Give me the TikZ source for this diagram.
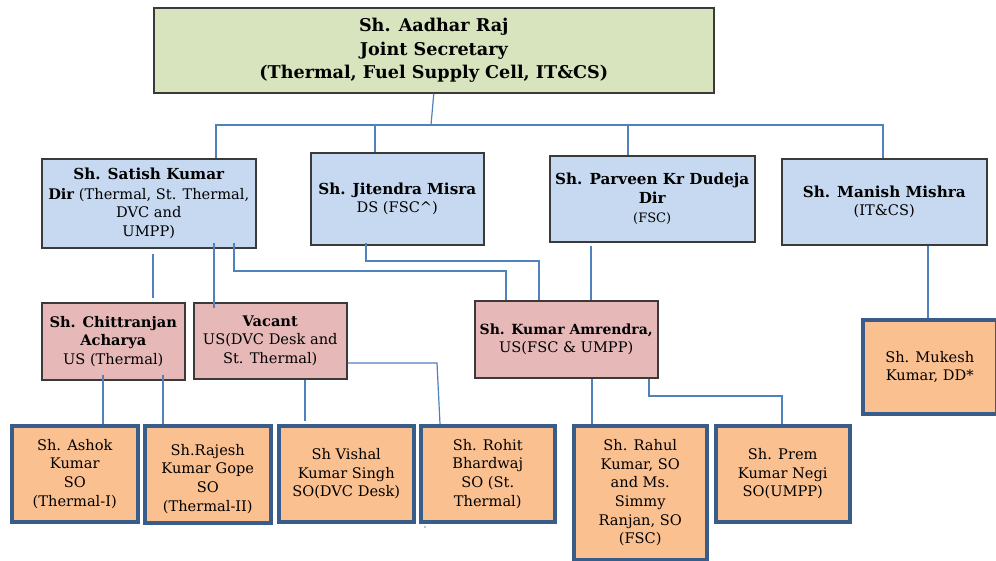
\documentclass[tikz,border=0pt]{standalone}
\usepackage{fontspec}
\setmainfont{DejaVu Serif}
\definecolor{jsfill}{HTML}{D7E4BD}
\definecolor{dirfill}{HTML}{C6D9F1}
\definecolor{usfill}{HTML}{E6B9B8}
\definecolor{sofill}{HTML}{FAC090}
\definecolor{soedge}{HTML}{385D8A}
\definecolor{linkblue}{HTML}{4F81BD}
\definecolor{edgegray}{HTML}{3A3A3A}
\newcommand{\namefont}{\fontsize{15.2}{19}\selectfont\bfseries}
\begin{document}
\begin{tikzpicture}[x=1pt,y=-1pt,
  box/.style={anchor=north west, inner sep=0pt, align=center,
    font=\fontsize{14.6}{18.6}\selectfont},
  jsbox/.style={box, draw=edgegray, line width=1.6pt, fill=jsfill,
    font=\fontsize{17.6}{23.5}\selectfont\bfseries},
  dirbox/.style={box, draw=edgegray, line width=1.5pt, fill=dirfill},
  usbox/.style={box, draw=edgegray, line width=1.5pt, fill=usfill},
  sobox/.style={box, draw=soedge, line width=3.5pt, fill=sofill},
  conn/.style={draw=linkblue, line width=1.2pt}]
\useasboundingbox (0,0) rectangle (996,560);
\fill[white] (0,0) rectangle (996,560);

% Joint Secretary
\node[jsbox, minimum width=560, minimum height=85] (js) at (153,7)
  {Sh. Aadhar Raj\\Joint Secretary\\(Thermal, Fuel Supply Cell, IT\&CS)};

% Directors / Deputy Secretary
\node[dirbox, minimum width=214, minimum height=89] (sat) at (41,158)
  {{\namefont Sh. Satish Kumar}\\[1.5pt]\textbf{Dir} (Thermal, St. Thermal,\\DVC and\\UMPP)};
\node[dirbox, minimum width=173, minimum height=92] (jm) at (310,152)
  {{\namefont Sh. Jitendra Misra}\\DS (FSC\^{})};
\node[dirbox, minimum width=205, minimum height=86] (pd) at (549,155)
  {{\namefont Sh. Parveen Kr Dudeja}\\{\namefont Dir}\\{\fontsize{13}{18}\selectfont (FSC)}};
\node[dirbox, minimum width=205, minimum height=86] (mm) at (781,158)
  {{\namefont Sh. Manish Mishra}\\(IT\&CS)};

% Under Secretaries
\node[usbox, minimum width=143, minimum height=77] (ca) at (41,302)
  {\textbf{Sh. Chittranjan}\\\textbf{Acharya}\\US (Thermal)};
\node[usbox, minimum width=153, minimum height=76] (vac) at (193,302)
  {\textbf{Vacant}\\US(DVC Desk and\\St. Thermal)};
\node[usbox, minimum width=183, minimum height=77] (ka) at (474,300)
  {{\fontsize{14}{18.6}\selectfont\bfseries Sh. Kumar Amrendra,}\\US(FSC \& UMPP)};

% Section Officers
\node[sobox, minimum width=126, minimum height=96] (ak) at (10,424)
  {Sh. Ashok\\Kumar\\SO\\(Thermal-I)};
\node[sobox, minimum width=126, minimum height=97] (rg) at (143,424)
  {\mbox{}\\[1.5pt]Sh.Rajesh\\Kumar Gope\\SO\\(Thermal-II)};
\node[sobox, minimum width=135, minimum height=96] (vs) at (277,424)
  {Sh Vishal\\Kumar Singh\\SO(DVC Desk)};
\node[sobox, minimum width=134, minimum height=96] (rb) at (419,424)
  {Sh. Rohit\\Bhardwaj\\SO (St.\\Thermal)};
\node[sobox, minimum width=133, minimum height=134] (rk) at (572,424)
  {Sh. Rahul\\Kumar, SO\\and Ms.\\Simmy\\Ranjan, SO\\(FSC)};
\node[sobox, minimum width=134, minimum height=96] (pn) at (714,424)
  {Sh. Prem\\Kumar Negi\\SO(UMPP)};
\node[sobox, minimum width=134, minimum height=94] (mk) at (861,318)
  {Sh. Mukesh\\Kumar, DD*};

% Connectors from the Joint Secretary
\coordinate (bus) at (431,125);
\draw[conn] (js.south) -- (bus);
\draw[conn] (216,0 |- sat.north) |- (bus) -| (883,0 |- mm.north);
\draw[conn] (375,0 |- jm.north) -- (375,0 |- bus);
\draw[conn] (628,0 |- pd.north) -- (628,0 |- bus);

% Connectors to the Under Secretaries
\draw[conn, shorten <=5pt, shorten >=4pt] (153,0 |- sat.south) -- (153,0 |- ca.north);
\draw[conn, shorten <=-6pt, shorten >=-6pt] (214,0 |- sat.south) -- (214,0 |- vac.north);
\draw[conn, shorten <=-6pt] (234,0 |- sat.south) |- (506,271) -- (506,0 |- ka.north);
\draw[conn, shorten <=-3pt] (366,0 |- jm.south) |- (539,261) -- (539,0 |- ka.north);
\draw[conn, shorten <=3pt] (591,0 |- pd.south) -- (591,0 |- ka.north);
\draw[conn] (928,0 |- mm.south) -- (928,0 |- mk.north);

% Connectors to the Section Officers
\draw[conn, shorten <=-6pt] (103,0 |- ca.south) -- (103,0 |- ak.north);
\draw[conn, shorten <=-6pt] (163,0 |- ca.south) -- (163,0 |- rg.north);
\draw[conn, shorten >=3pt] (305,0 |- vac.south) -- (305,0 |- vs.north);
\draw[conn] (vac.east |- 0,363) -- (437,363) -- (440,0 |- rb.north);
\draw[conn] (592,0 |- ka.south) -- (592,0 |- rk.north);
\draw[conn] (649,0 |- ka.south) |- (782,396) -- (782,0 |- pn.north);

\fill (425,527) circle (0.6pt);
\end{tikzpicture}
\end{document}
